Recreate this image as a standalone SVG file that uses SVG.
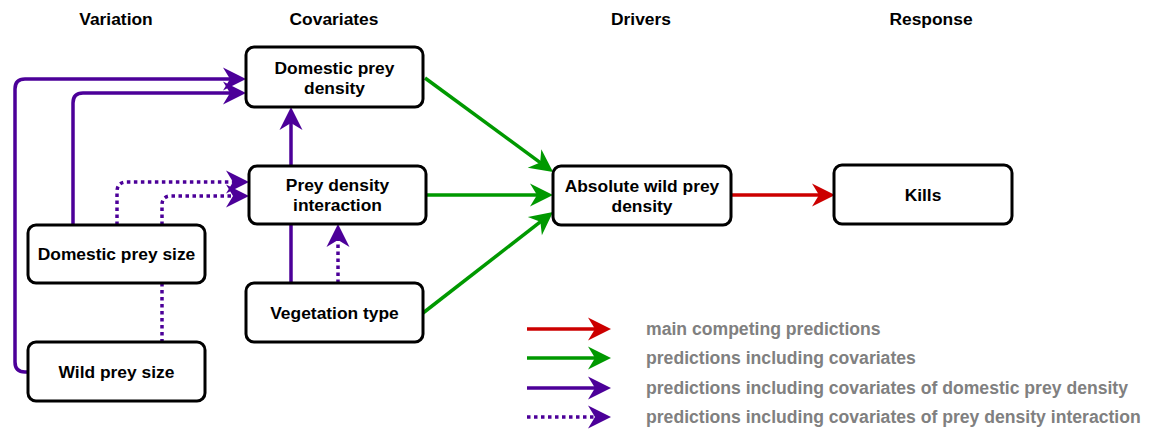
<svg xmlns="http://www.w3.org/2000/svg" width="1152" height="430" viewBox="0 0 1152 430">
<style>
  .box { fill: #ffffff; stroke: #000000; stroke-width: 3; }
  .t { font-family: "Liberation Sans", Arial, Helvetica, sans-serif; font-weight: bold; font-size: 17.4px; fill: #000000; text-anchor: middle; }
  .hdr { font-family: "Liberation Sans", Arial, Helvetica, sans-serif; font-weight: bold; font-size: 17.4px; fill: #000000; text-anchor: middle; }
  .leg { font-family: "Liberation Sans", Arial, Helvetica, sans-serif; font-weight: bold; font-size: 17.6px; fill: #808080; }
  .e { fill: none; stroke-width: 3.5; }
  .red { stroke: #CC0000; }
  .green { stroke: #009900; }
  .purple { stroke: #4C0099; }
  .dot { stroke-dasharray: 3.5 3.5; }
</style>
<defs>
  <marker id="aRed" viewBox="-24 -13 25 26" refX="-10" refY="0" markerWidth="25" markerHeight="26" markerUnits="userSpaceOnUse" orient="auto">
    <path d="M0,0 L-23,-11.5 L-16,0 L-23,11.5 Z" fill="#CC0000"/>
  </marker>
  <marker id="aGreen" viewBox="-24 -13 25 26" refX="-10" refY="0" markerWidth="25" markerHeight="26" markerUnits="userSpaceOnUse" orient="auto">
    <path d="M0,0 L-23,-11.5 L-16,0 L-23,11.5 Z" fill="#009900"/>
  </marker>
  <marker id="aPurple" viewBox="-24 -13 25 26" refX="-10" refY="0" markerWidth="25" markerHeight="26" markerUnits="userSpaceOnUse" orient="auto">
    <path d="M0,0 L-23,-11.5 L-16,0 L-23,11.5 Z" fill="#4C0099"/>
  </marker>
</defs>

<g id="headers">
  <text class="hdr" x="116" y="25">Variation</text>
  <text class="hdr" x="334" y="25">Covariates</text>
  <text class="hdr" x="641" y="25">Drivers</text>
  <text class="hdr" x="931" y="25">Response</text>
</g>

<g id="connectors">
  <path class="e purple" d="M28,372 L25,372 Q15,372 15,362 L15,89 Q15,79 25,79 L236,79" marker-end="url(#aPurple)"/>
  <path class="e purple" d="M73,225 L73,103 Q73,93 83,93 L236,93" marker-end="url(#aPurple)"/>
  <path class="e purple dot" d="M117,225 L117,192 Q117,182 127,182 L239,182" marker-end="url(#aPurple)"/>
  <path class="e purple dot" d="M162,225 L162,205 Q162,196 171,196 L239,196" marker-end="url(#aPurple)"/>
  <path class="e purple dot" d="M162,283 L162,342"/>
  <path class="e purple" d="M291,283 L291,117" marker-end="url(#aPurple)"/>
  <path class="e purple dot" d="M338,283 L338,234" marker-end="url(#aPurple)"/>
  <path class="e green" d="M425,78 L545,166.1" marker-end="url(#aGreen)"/>
  <path class="e green" d="M426,195 L543,195" marker-end="url(#aGreen)"/>
  <path class="e green" d="M423,313 L545.1,218.1" marker-end="url(#aGreen)"/>
  <path class="e red" d="M731,195 L825,195" marker-end="url(#aRed)"/>
</g>

<g id="node-domestic-prey-density">
  <rect class="box" x="246" y="47" width="177" height="60" rx="8"/>
  <text class="t" x="334.5" y="74">Domestic prey</text>
  <text class="t" x="334.5" y="94">density</text>
</g>
<g id="node-prey-density-interaction">
  <rect class="box" x="249" y="166" width="177" height="58" rx="8"/>
  <text class="t" x="337.5" y="191">Prey density</text>
  <text class="t" x="337.5" y="211">interaction</text>
</g>
<g id="node-domestic-prey-size">
  <rect class="box" x="28" y="225" width="177" height="58" rx="8"/>
  <text class="t" x="116.5" y="260">Domestic prey size</text>
</g>
<g id="node-wild-prey-size">
  <rect class="box" x="28" y="342" width="177" height="59" rx="8"/>
  <text class="t" x="116.5" y="378">Wild prey size</text>
</g>
<g id="node-vegetation-type">
  <rect class="box" x="246" y="283" width="177" height="59" rx="8"/>
  <text class="t" x="334.5" y="319">Vegetation type</text>
</g>
<g id="node-absolute-wild-prey-density">
  <rect class="box" x="553" y="166" width="178" height="59" rx="8"/>
  <text class="t" x="642" y="191.5">Absolute wild prey</text>
  <text class="t" x="642" y="211.5">density</text>
</g>
<g id="node-kills">
  <rect class="box" x="834" y="165" width="178" height="59" rx="8"/>
  <text class="t" x="923" y="201">Kills</text>
</g>

<g id="legend">
  <path class="e red" d="M527,329 L601,329" marker-end="url(#aRed)"/>
  <path class="e green" d="M527,358 L601,358" marker-end="url(#aGreen)"/>
  <path class="e purple" d="M527,388 L601,388" marker-end="url(#aPurple)"/>
  <path class="e purple dot" d="M527,417 L601,417" marker-end="url(#aPurple)"/>
  <text class="leg" x="646" y="334.5">main competing predictions</text>
  <text class="leg" x="646" y="363.5">predictions including covariates</text>
  <text class="leg" x="646" y="393.5">predictions including covariates of domestic prey density</text>
  <text class="leg" x="646" y="422.5">predictions including covariates of prey density interaction</text>
</g>
</svg>
